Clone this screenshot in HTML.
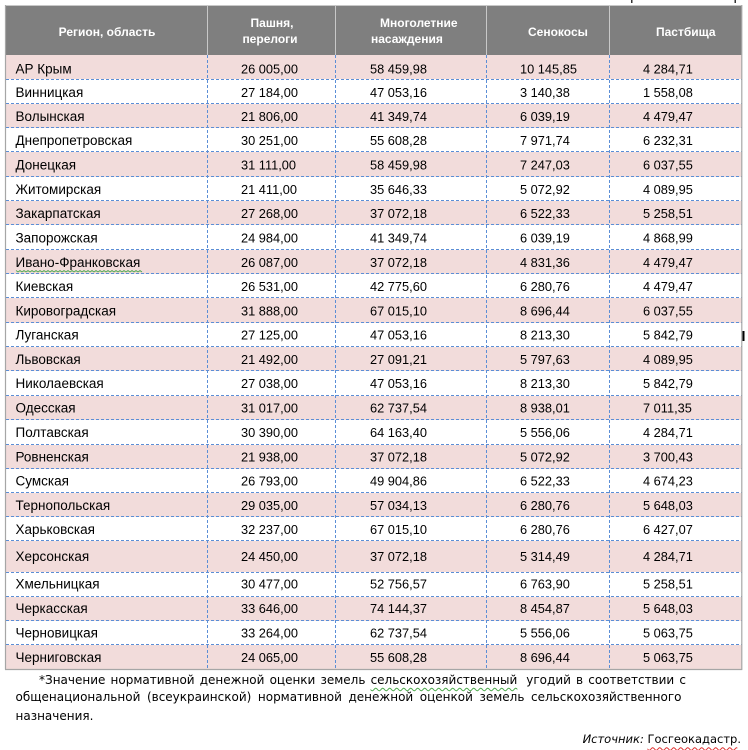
<!DOCTYPE html>
<html><head><meta charset="utf-8">
<style>
html,body{margin:0;padding:0;background:#fff;}
body{width:748px;height:750px;position:relative;overflow:hidden;font-family:"Liberation Sans","Noto Sans CJK SC",sans-serif;}
svg{position:absolute;left:0;top:0;}
.fl{position:absolute;display:flex;justify-content:space-between;font-family:"DejaVu Sans","Liberation Sans",sans-serif;font-size:12px;line-height:15px;color:#000;white-space:nowrap;}
.wg{text-decoration:underline wavy #4aa84a;text-decoration-thickness:1px;text-underline-offset:3px;}
.wr{text-decoration:underline wavy #e03030;text-decoration-thickness:1px;text-underline-offset:3px;}
</style></head><body>
<svg width="748" height="750" viewBox="0 0 748 750" xmlns="http://www.w3.org/2000/svg">
<!-- header -->
<rect x="5.5" y="5" width="736.5" height="50" fill="#7f7f7f"/>
<g stroke="#c8c8c8" stroke-width="1">
<line x1="207.5" y1="5" x2="207.5" y2="55"/>
<line x1="335.5" y1="5" x2="335.5" y2="55"/>
<line x1="486.5" y1="5" x2="486.5" y2="55"/>
<line x1="609.5" y1="5" x2="609.5" y2="55"/>
<line x1="5.5" y1="5.5" x2="742" y2="5.5"/>
</g>
<g fill="#fff" font-family="Liberation Sans, sans-serif" font-weight="bold" font-size="12px">
<text x="107" y="36" text-anchor="middle">Регион, область</text>
<text x="272" y="27" text-anchor="middle">Пашня,</text>
<text x="270" y="43" text-anchor="middle">перелоги</text>
<text x="380" y="27">Многолетние</text>
<text x="371" y="43">насаждения</text>
<text x="528" y="36">Сенокосы</text>
<text x="656" y="36">Пастбища</text>
</g>
<!-- pink rows -->
<g fill="#f2dcdb">
<rect x="6" y="55" width="736" height="24"/>
<rect x="6" y="104" width="736" height="24"/>
<rect x="6" y="152" width="736" height="25"/>
<rect x="6" y="201" width="736" height="24"/>
<rect x="6" y="250" width="736" height="24"/>
<rect x="6" y="298" width="736" height="25"/>
<rect x="6" y="347" width="736" height="24"/>
<rect x="6" y="396" width="736" height="24"/>
<rect x="6" y="445" width="736" height="24"/>
<rect x="6" y="493" width="736" height="24"/>
<rect x="6" y="541" width="736" height="31"/>
<rect x="6" y="597" width="736" height="24"/>
<rect x="6" y="645" width="736" height="24"/>
</g>
<!-- dashed grid -->
<g stroke="#5b8ed6" stroke-width="1" stroke-dasharray="3 2" fill="none">
<line x1="6" y1="79.5" x2="742" y2="79.5"/>
<line x1="6" y1="103.5" x2="742" y2="103.5"/>
<line x1="6" y1="127.5" x2="742" y2="127.5"/>
<line x1="6" y1="151.5" x2="742" y2="151.5"/>
<line x1="6" y1="176.5" x2="742" y2="176.5"/>
<line x1="6" y1="200.5" x2="742" y2="200.5"/>
<line x1="6" y1="224.5" x2="742" y2="224.5"/>
<line x1="6" y1="249.5" x2="742" y2="249.5"/>
<line x1="6" y1="273.5" x2="742" y2="273.5"/>
<line x1="6" y1="297.5" x2="742" y2="297.5"/>
<line x1="6" y1="322.5" x2="742" y2="322.5"/>
<line x1="6" y1="346.5" x2="742" y2="346.5"/>
<line x1="6" y1="370.5" x2="742" y2="370.5"/>
<line x1="6" y1="395.5" x2="742" y2="395.5"/>
<line x1="6" y1="419.5" x2="742" y2="419.5"/>
<line x1="6" y1="444.5" x2="742" y2="444.5"/>
<line x1="6" y1="468.5" x2="742" y2="468.5"/>
<line x1="6" y1="492.5" x2="742" y2="492.5"/>
<line x1="6" y1="516.5" x2="742" y2="516.5"/>
<line x1="6" y1="540.5" x2="742" y2="540.5"/>
<line x1="6" y1="572.5" x2="742" y2="572.5"/>
<line x1="6" y1="596.5" x2="742" y2="596.5"/>
<line x1="6" y1="620.5" x2="742" y2="620.5"/>
<line x1="6" y1="644.5" x2="742" y2="644.5"/>
<line x1="207.5" y1="55" x2="207.5" y2="669"/>
<line x1="335.5" y1="55" x2="335.5" y2="669"/>
<line x1="486.5" y1="55" x2="486.5" y2="669"/>
<line x1="609.5" y1="55" x2="609.5" y2="669"/>
</g>
<!-- outer border -->
<g stroke="#a6a6a6" stroke-width="1.2" fill="none">
<line x1="5.5" y1="5" x2="5.5" y2="669.5"/>
<line x1="741.8" y1="5" x2="741.8" y2="669.5"/>
<line x1="5" y1="669.5" x2="742.3" y2="669.5"/>
</g>
<!-- names -->
<g fill="#000" font-family="Liberation Sans, sans-serif" font-size="13.5px">
<text x="15.5" y="73.5">АР Крым</text>
<text x="15.5" y="97">Винницкая</text>
<text x="15.5" y="121">Волынская</text>
<text x="15.5" y="145">Днепропетровская</text>
<text x="15.5" y="169.5">Донецкая</text>
<text x="15.5" y="194">Житомирская</text>
<text x="15.5" y="218">Закарпатская</text>
<text x="15.5" y="242.5">Запорожская</text>
<text x="15.5" y="267">Ивано-Франковская</text>
<text x="15.5" y="291">Киевская</text>
<text x="15.5" y="315.3">Кировоградская</text>
<text x="15.5" y="339.5">Луганская</text>
<text x="15.5" y="364">Львовская</text>
<text x="15.5" y="388">Николаевская</text>
<text x="15.5" y="412.5">Одесская</text>
<text x="15.5" y="437">Полтавская</text>
<text x="15.5" y="461.5">Ровненская</text>
<text x="15.5" y="485.5">Сумская</text>
<text x="15.5" y="510">Тернопольская</text>
<text x="15.5" y="534">Харьковская</text>
<text x="15.5" y="561">Херсонская</text>
<text x="15.5" y="588.7">Хмельницкая</text>
<text x="15.5" y="613">Черкасская</text>
<text x="15.5" y="637.5">Черновицкая</text>
<text x="15.5" y="662">Черниговская</text>
</g>
<path d="M16 270.5 l2 1.5 l2 -1.5 l2 1.5 l2 -1.5 l2 1.5 l2 -1.5 l2 1.5 l2 -1.5 l2 1.5 l2 -1.5 l2 1.5 l2 -1.5 l2 1.5 l2 -1.5 l2 1.5 l2 -1.5 l2 1.5 l2 -1.5 l2 1.5 l2 -1.5 l2 1.5 l2 -1.5 l2 1.5 l2 -1.5 l2 1.5 l2 -1.5 l2 1.5 l2 -1.5 l2 1.5 l2 -1.5 l2 1.5 l2 -1.5 l2 1.5 l2 -1.5 l2 1.5 l2 -1.5 l2 1.5 l2 -1.5 l2 1.5 l2 -1.5 l2 1.5 l2 -1.5 l2 1.5 l2 -1.5 l2 1.5 l2 -1.5 l2 1.5 l2 -1.5 l2 1.5 l2 -1.5 l2 1.5 l2 -1.5 l2 1.5 l2 -1.5 l2 1.5 l2 -1.5 l2 1.5 l2 -1.5 l2 1.5 l2 -1.5 l2 1.5 l2 -1.5 l2 1.5" stroke="#4aa84a" stroke-width="0.8" fill="none"/>
<!-- numbers -->
<g fill="#000" font-family="Liberation Sans, sans-serif" font-size="12.8px">
<text x="241" y="73.5">26 005,00</text><text x="370" y="73.5">58 459,98</text><text x="520" y="73.5">10 145,85</text><text x="643" y="73.5">4 284,71</text>
<text x="241" y="97">27 184,00</text><text x="370" y="97">47 053,16</text><text x="520" y="97">3 140,38</text><text x="643" y="97">1 558,08</text>
<text x="241" y="121">21 806,00</text><text x="370" y="121">41 349,74</text><text x="520" y="121">6 039,19</text><text x="643" y="121">4 479,47</text>
<text x="241" y="145">30 251,00</text><text x="370" y="145">55 608,28</text><text x="520" y="145">7 971,74</text><text x="643" y="145">6 232,31</text>
<text x="241" y="169.5">31 111,00</text><text x="370" y="169.5">58 459,98</text><text x="520" y="169.5">7 247,03</text><text x="643" y="169.5">6 037,55</text>
<text x="241" y="194">21 411,00</text><text x="370" y="194">35 646,33</text><text x="520" y="194">5 072,92</text><text x="643" y="194">4 089,95</text>
<text x="241" y="218">27 268,00</text><text x="370" y="218">37 072,18</text><text x="520" y="218">6 522,33</text><text x="643" y="218">5 258,51</text>
<text x="241" y="242.5">24 984,00</text><text x="370" y="242.5">41 349,74</text><text x="520" y="242.5">6 039,19</text><text x="643" y="242.5">4 868,99</text>
<text x="241" y="267">26 087,00</text><text x="370" y="267">37 072,18</text><text x="520" y="267">4 831,36</text><text x="643" y="267">4 479,47</text>
<text x="241" y="291">26 531,00</text><text x="370" y="291">42 775,60</text><text x="520" y="291">6 280,76</text><text x="643" y="291">4 479,47</text>
<text x="241" y="315.3">31 888,00</text><text x="370" y="315.3">67 015,10</text><text x="520" y="315.3">8 696,44</text><text x="643" y="315.3">6 037,55</text>
<text x="241" y="339.5">27 125,00</text><text x="370" y="339.5">47 053,16</text><text x="520" y="339.5">8 213,30</text><text x="643" y="339.5">5 842,79</text>
<text x="241" y="364">21 492,00</text><text x="370" y="364">27 091,21</text><text x="520" y="364">5 797,63</text><text x="643" y="364">4 089,95</text>
<text x="241" y="388">27 038,00</text><text x="370" y="388">47 053,16</text><text x="520" y="388">8 213,30</text><text x="643" y="388">5 842,79</text>
<text x="241" y="412.5">31 017,00</text><text x="370" y="412.5">62 737,54</text><text x="520" y="412.5">8 938,01</text><text x="643" y="412.5">7 011,35</text>
<text x="241" y="437">30 390,00</text><text x="370" y="437">64 163,40</text><text x="520" y="437">5 556,06</text><text x="643" y="437">4 284,71</text>
<text x="241" y="461.5">21 938,00</text><text x="370" y="461.5">37 072,18</text><text x="520" y="461.5">5 072,92</text><text x="643" y="461.5">3 700,43</text>
<text x="241" y="485.5">26 793,00</text><text x="370" y="485.5">49 904,86</text><text x="520" y="485.5">6 522,33</text><text x="643" y="485.5">4 674,23</text>
<text x="241" y="510">29 035,00</text><text x="370" y="510">57 034,13</text><text x="520" y="510">6 280,76</text><text x="643" y="510">5 648,03</text>
<text x="241" y="534">32 237,00</text><text x="370" y="534">67 015,10</text><text x="520" y="534">6 280,76</text><text x="643" y="534">6 427,07</text>
<text x="241" y="561">24 450,00</text><text x="370" y="561">37 072,18</text><text x="520" y="561">5 314,49</text><text x="643" y="561">4 284,71</text>
<text x="241" y="588.7">30 477,00</text><text x="370" y="588.7">52 756,57</text><text x="520" y="588.7">6 763,90</text><text x="643" y="588.7">5 258,51</text>
<text x="241" y="613">33 646,00</text><text x="370" y="613">74 144,37</text><text x="520" y="613">8 454,87</text><text x="643" y="613">5 648,03</text>
<text x="241" y="637.5">33 264,00</text><text x="370" y="637.5">62 737,54</text><text x="520" y="637.5">5 556,06</text><text x="643" y="637.5">5 063,75</text>
<text x="241" y="662">24 065,00</text><text x="370" y="662">55 608,28</text><text x="520" y="662">8 696,44</text><text x="643" y="662">5 063,75</text>
</g>
<!-- misc marks -->
<rect x="631" y="0" width="1.5" height="3" fill="#333"/>
<rect x="734.5" y="0" width="1.5" height="3" fill="#333"/>
<rect x="742.5" y="331" width="2" height="10" fill="#000"/>
</svg>

<div class="fl" style="left:39px;width:647px;top:672.9px;">
<span>*Значение</span><span>нормативной</span><span>денежной</span><span>оценки</span><span>земель</span><span class="wg">сельскохозяйственный</span><span>&nbsp;угодий</span><span>в</span><span>соответствии</span><span>с</span>
</div>
<div class="fl" style="left:15.5px;width:666px;top:690.4px;">
<span>общенациональной</span><span>(всеукраинской)</span><span>нормативной</span><span>денежной</span><span>оценкой</span><span>земель</span><span>сельскохозяйственного</span>
</div>
<div class="fl" style="left:15.5px;top:709px;">
<span>назначения.</span>
</div>
<div class="fl" style="right:7px;top:732.4px;justify-content:flex-end;font-size:11.5px;">
<span><i>Источник:</i>&nbsp;<span class="wr">Госгеокадастр</span>.</span>
</div>
</body></html>
